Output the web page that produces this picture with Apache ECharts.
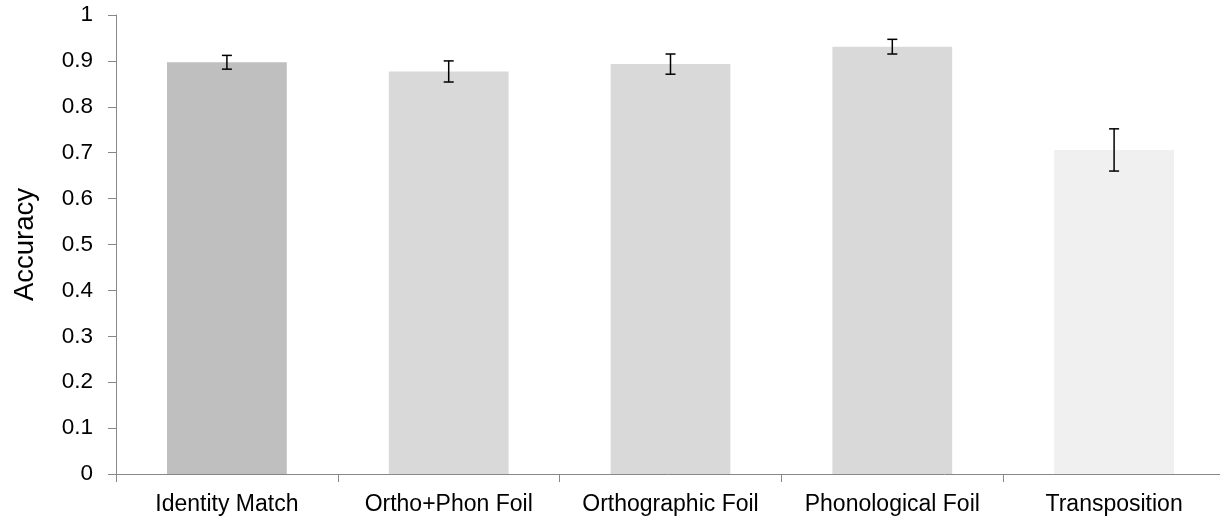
<!DOCTYPE html>
<html>
<head>
<meta charset="utf-8">
<script src="https://cdn.jsdelivr.net/npm/echarts@6/dist/echarts.min.js"></script>
<style>
  html, body { margin: 0; padding: 0; background: #fff; }
  #chart { width: 1220px; height: 519px; }
</style>
</head>
<body>
<div id="chart"></div>
<script>
const categories = ['Identity Match', 'Ortho+Phon Foil', 'Orthographic Foil', 'Phonological Foil', 'Transposition'];
const accuracy = [0.897, 0.877, 0.893, 0.931, 0.706];
const errors = [0.015, 0.023, 0.022, 0.016, 0.046];
const barColors = ['#BFBFBF', '#D9D9D9', '#D9D9D9', '#D9D9D9', '#F0F0F0'];
const yTicks = [0, 0.1, 0.2, 0.3, 0.4, 0.5, 0.6, 0.7, 0.8, 0.9, 1];

function getOption() {
    const font = 'Liberation Sans, Arial, sans-serif';
    const option = {
        animation: false,
        grid: { left: 116, top: 15, width: 1109, height: 459, outerBoundsMode: 'none', containLabel: false },
        xAxis: {
            type: 'category',
            data: categories,
            axisLine: { lineStyle: { color: '#888888', width: 1 } },
            axisTick: { show: true, length: 8, alignWithLabel: false, lineStyle: { color: '#888888' } },
            axisLabel: { color: '#000', fontSize: 23, fontFamily: font, margin: 19, interval: 0 },
        },
        yAxis: {
            type: 'value',
            min: 0,
            max: 1,
            interval: 0.1,
            name: 'Accuracy',
            nameLocation: 'middle',
            nameGap: 77,
            nameTextStyle: { color: '#000', fontSize: 27.5, fontFamily: font },
            splitLine: { show: false },
            axisLine: { show: true, lineStyle: { color: '#888888', width: 1 } },
            axisTick: { show: true, length: 8, lineStyle: { color: '#888888' } },
            axisLabel: {
                color: '#000', fontSize: 22.5, fontFamily: font, margin: 23,
                formatter: (v) => {
                    const t = yTicks.find((k) => Math.abs(k - v) < 1e-9);
                    return t === undefined ? '' : String(t);
                },
            },
        },
        series: [
            {
                type: 'bar',
                barCategoryGap: '46%',
                data: accuracy.map((v, i) => ({ value: v, itemStyle: { color: barColors[i] } })),
            },
            {
                type: 'custom',
                data: accuracy.map((v, i) => [i, v - errors[i], v + errors[i]]),
                renderItem: (params, api) => {
                    const lo = api.coord([api.value(0), api.value(1)]);
                    const hi = api.coord([api.value(0), api.value(2)]);
                    const cap = 5;
                    const style = { stroke: '#000', lineWidth: 1.5 };
                    return {
                        type: 'group',
                        children: [
                            { type: 'line', shape: { x1: hi[0], y1: hi[1], x2: lo[0], y2: lo[1] }, style },
                            { type: 'line', shape: { x1: hi[0] - cap, y1: hi[1], x2: hi[0] + cap, y2: hi[1] }, style },
                            { type: 'line', shape: { x1: lo[0] - cap, y1: lo[1], x2: lo[0] + cap, y2: lo[1] }, style },
                        ],
                    };
                },
                z: 10,
            },
        ],
    };
    return option;
}

const chart = echarts.init(document.getElementById('chart'));
chart.setOption(getOption());
</script>
</body>
</html>
